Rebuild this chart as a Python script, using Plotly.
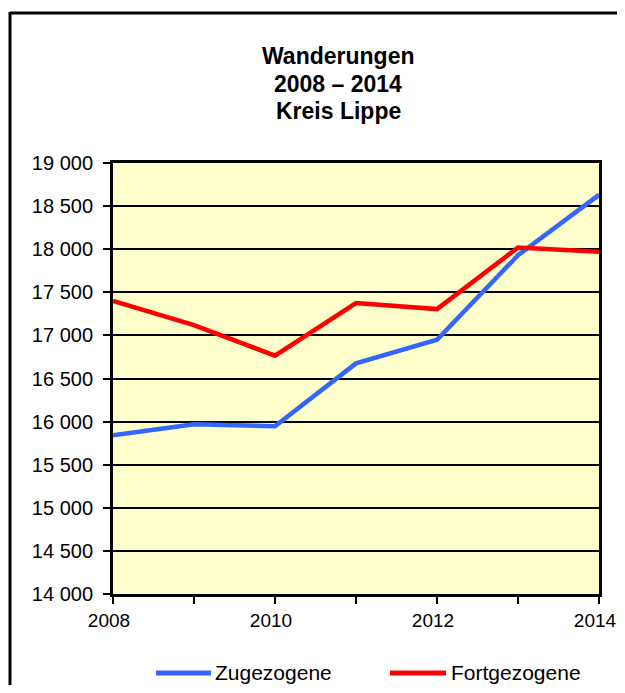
import plotly.graph_objects as go

years = [2008, 2009, 2010, 2011, 2012, 2013, 2014]
zugezogene = [15840, 15970, 15945, 16675, 16950, 17930, 18630]
fortgezogene = [17400, 17120, 16765, 17375, 17305, 18020, 17970]
series_names = ["Zugezogene", "Fortgezogene"]
series_colors = ["#3366FF", "#FF0000"]

y_tickvals = [14000, 14500, 15000, 15500, 16000, 16500, 17000, 17500, 18000, 18500, 19000]
y_ticktext = ["14 000", "14 500", "15 000", "15 500", "16 000", "16 500",
              "17 000", "17 500", "18 000", "18 500", "19 000"]
x_ticktext = ["2008", "", "2010", "", "2012", "", "2014"]
title_lines = ["Wanderungen", "2008 – 2014", "Kreis Lippe"]

# page has an 8px body margin; figure sized so the page does not overflow
OFF = 8
W, H = 625 - 2 * OFF, 693 - 2 * OFF
L, T = 113 - OFF, 163 - OFF
R = W - (599 - OFF)
B = H - (594 - OFF)
pw, ph = W - L - R, H - T - B
FONT = "Liberation Sans, Arial, sans-serif"


def px_x(xpage):
    return (xpage - OFF - L) / pw


def px_y(ypage):
    return (H - B - (ypage - OFF)) / ph


fig = go.Figure()
for name, vals, col in zip(series_names, [zugezogene, fortgezogene], series_colors):
    fig.add_trace(go.Scatter(x=years, y=vals, mode="lines", name=name,
                             line=dict(color=col, width=4.5), showlegend=False))

# outer frame (cut off at right and bottom like the reference)
fig.add_shape(type="line", xref="paper", yref="paper",
              x0=px_x(10), x1=px_x(640), y0=px_y(13), y1=px_y(13),
              line=dict(color="black", width=3))
fig.add_shape(type="line", xref="paper", yref="paper",
              x0=px_x(10), x1=px_x(10), y0=px_y(12), y1=px_y(710),
              line=dict(color="black", width=3))

# title, three lines
for txt, yc in zip(title_lines, [56, 84, 111]):
    fig.add_annotation(text="<b>%s</b>" % txt, xref="paper", yref="paper",
                       x=px_x(338), y=px_y(yc), xanchor="center", yanchor="middle",
                       showarrow=False, font=dict(size=23, family=FONT, color="black"))

# legend (manual)
leg_y = 673
for name, col, x0, x1, xt in zip(series_names, series_colors,
                                 [156, 390], [211, 446], [213, 449]):
    fig.add_shape(type="line", xref="paper", yref="paper",
                  x0=px_x(x0), x1=px_x(x1), y0=px_y(leg_y), y1=px_y(leg_y),
                  line=dict(color=col, width=5))
    fig.add_annotation(text=name, xref="paper", yref="paper",
                       x=px_x(xt), y=px_y(leg_y - 1), xanchor="left", yanchor="middle",
                       showarrow=False, font=dict(size=21, family=FONT, color="black"))

fig.update_layout(
    width=W, height=H,
    margin=dict(l=L, r=R, t=T, b=B, autoexpand=False),
    paper_bgcolor="white",
    plot_bgcolor="#FFFFCC",
    font=dict(family=FONT, color="black", size=20),
    showlegend=False,
    xaxis=dict(range=[2008, 2014], tickvals=years, ticktext=x_ticktext,
               ticks="outside", ticklen=7, tickwidth=2, tickcolor="black",
               ticklabeloverflow="allow", automargin=False,
               ticklabelshift=-4,
               showgrid=False, zeroline=False,
               showline=True, linecolor="black", linewidth=3, mirror=True,
               tickfont=dict(size=19)),
    yaxis=dict(range=[14000, 19000], tickvals=y_tickvals, ticktext=y_ticktext,
               ticks="outside", ticklen=7, tickwidth=2, tickcolor="black",
               ticklabelstandoff=6, automargin=False,
               showgrid=True, gridcolor="black", gridwidth=2, zeroline=False,
               showline=True, linecolor="black", linewidth=3, mirror=True,
               tickfont=dict(size=20)),
)

fig.write_html("out.html")
